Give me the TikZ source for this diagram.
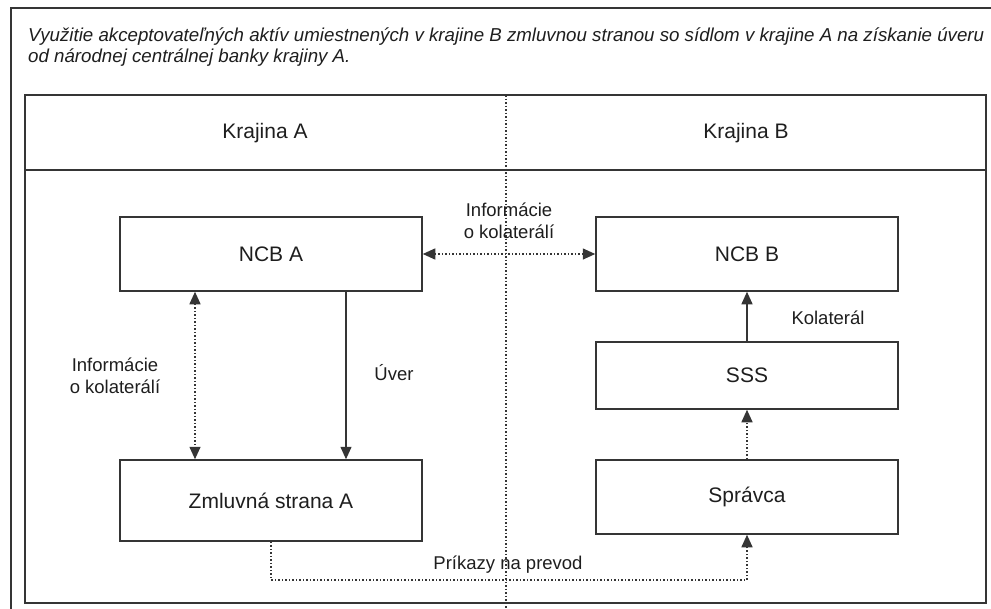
\documentclass[tikz,border=0pt]{standalone}
\usepackage{fontspec}
\setmainfont{Liberation Sans}
\usetikzlibrary{arrows.meta}
\definecolor{ln}{HTML}{353535}
\definecolor{tx}{HTML}{1E1E1E}
\tikzset{
  boxnode/.style={draw=ln, line width=1.5pt, minimum width=302pt, inner sep=0pt, font=\fontsize{21}{24}\selectfont, text=tx},
  lbl/.style={font=\fontsize{18.5}{22}\selectfont, text=tx, align=center, inner sep=0pt},
  titletext/.style={anchor=base west, inner sep=0pt, font=\fontsize{18.7}{21}\selectfont\itshape, text=tx},
  dotline/.style={draw=ln, line width=1.5pt, dash pattern=on 1.6pt off 1.9pt},
  solidline/.style={draw=ln, line width=1.4pt},
  tip/.style={-{Triangle[length=12.5pt,width=11pt]}},
  dtip/.style={{Triangle[length=12.5pt,width=11pt]}-{Triangle[length=12.5pt,width=11pt]}},
  frame/.style={draw=ln, line width=1.5pt}
}
\begin{document}
\begin{tikzpicture}[x=1pt,y=-1pt]
\useasboundingbox (0,0) rectangle (991,608);
% outer frame
\draw[frame] (11,620) -- (11,8) -- (1000,8);
% title
\node[titletext] (title1) at (28,41) {Využitie akceptovateľných aktív umiestnených v krajine B zmluvnou stranou so sídlom v krajine A na získanie úveru};
\node[titletext] (title2) at (28,62) {od národnej centrálnej banky krajiny A.};
% inner table
\draw[frame] (25,95) rectangle (986,603);
\draw[frame] (25,170) -- (986,170);
\draw[dotline] (506,95) -- (506,608);
\node[lbl, font=\fontsize{21}{24}\selectfont] (ka) at (265,133) {Krajina A};
\node[lbl, font=\fontsize{21}{24}\selectfont] (kb) at (746,133) {Krajina B};
% boxes
\node[boxnode, minimum height=74pt] (ncba) at (271,254) {NCB A};
\node[boxnode, minimum height=81pt] (zml) at (271,500.5) {Zmluvná strana A};
\node[boxnode, minimum height=74pt] (ncbb) at (747,254) {NCB B};
\node[boxnode, minimum height=67pt] (sss) at (747,375.5) {SSS};
\node[boxnode, minimum height=74pt] (spr) at (747,497) {Správca};
% helper coordinates
\coordinate (lx) at (195,0);
\coordinate (ux) at (346,0);
\coordinate (py) at (0,580);
% connectors
\draw[dotline, dtip] (ncba.east) -- (ncbb.west);
\node[lbl] (info1) at (509,221) {Informácie\\o kolaterálí};
\draw[dotline, dtip] (lx |- ncba.south) -- (lx |- zml.north);
\node[lbl] (info2) at (115,376) {Informácie\\o kolaterálí};
\draw[solidline, tip] (ux |- ncba.south) -- (ux |- zml.north);
\node[lbl] (uver) at (394,373) {Úver};
\draw[solidline, tip] (sss.north) -- (ncbb.south);
\node[lbl] (kol) at (828,318) {Kolaterál};
\draw[dotline, tip] (spr.north) -- (sss.south);
\draw[dotline, tip] (zml.south) |- (spr.south |- py) -- (spr.south);
\node[lbl] (prik) at (508,565) {Príkazy na prevod};
\end{tikzpicture}
\end{document}
